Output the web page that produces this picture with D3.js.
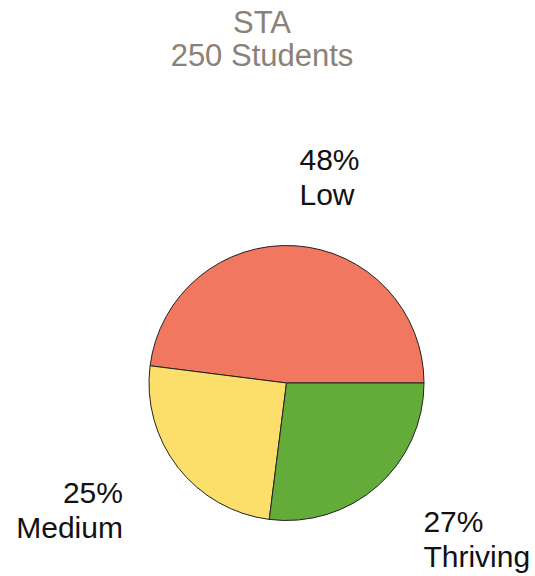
<!DOCTYPE html>
<html>
<head>
<meta charset="utf-8">
<script src="https://cdn.jsdelivr.net/npm/d3@7"></script>
<style>
  html, body { margin: 0; padding: 0; background: #ffffff; }
  svg { display: block; }
</style>
</head>
<body>
<div id="chart"></div>
<script>
const titleLines = ["STA", "250 Students"];
const categories = ["Low", "Medium", "Thriving"];
const values = [48, 25, 27];
const colors = ["#f1775e", "#fcdf6b", "#64ac3a"];

const W = 535, H = 576;
const cx = 286.5, cy = 383, R = 137.5, labelR = 207;
const font = "Liberation Sans, Arial, Helvetica, sans-serif";

const svg = d3.select("#chart").append("svg")
  .attr("width", W).attr("height", H);

// Title (two separate lines)
titleLines.forEach((t, i) => {
  svg.append("text")
    .attr("x", 262).attr("y", 33 + i * 32.5)
    .attr("text-anchor", "middle")
    .attr("font-family", font)
    .attr("font-size", 31)
    .attr("fill", "#8b8178")
    .text(t);
});

const data = categories.map((c, i) => ({ cat: c, value: values[i], color: colors[i] }));
const total = d3.sum(values);

const pie = d3.pie()
  .sort(null)
  .value(d => d.value)
  .startAngle(Math.PI / 2)
  .endAngle(Math.PI / 2 - 2 * Math.PI);

const arcs = pie(data);
const arc = d3.arc().innerRadius(0).outerRadius(R);

const g = svg.append("g").attr("transform", `translate(${cx},${cy})`);

g.selectAll("path.slice")
  .data(arcs)
  .enter().append("path")
  .attr("class", "slice")
  .attr("d", arc)
  .attr("fill", d => d.data.color)
  .attr("stroke", "#222")
  .attr("stroke-width", 1)
  .attr("stroke-linejoin", "round");

// Labels
const lineGap = 35, capH = 21.5;
arcs.forEach(a => {
  const mid = (a.startAngle + a.endAngle) / 2;
  const x = Math.sin(mid) * labelR;
  const y = -Math.cos(mid) * labelR;
  const anchor = Math.sin(mid) >= 0 ? "start" : "end";
  const pct = Math.round(a.data.value / total * 100) + "%";
  const base1 = y - (lineGap + capH) / 2 + capH;
  const t = g.append("text")
    .attr("text-anchor", anchor)
    .attr("font-family", font)
    .attr("font-size", 30)
    .attr("fill", "#111");
  t.append("tspan").attr("x", x).attr("y", base1).text(pct);
  t.append("tspan").attr("x", x).attr("y", base1 + lineGap).text(a.data.cat);
});
</script>
</body>
</html>
